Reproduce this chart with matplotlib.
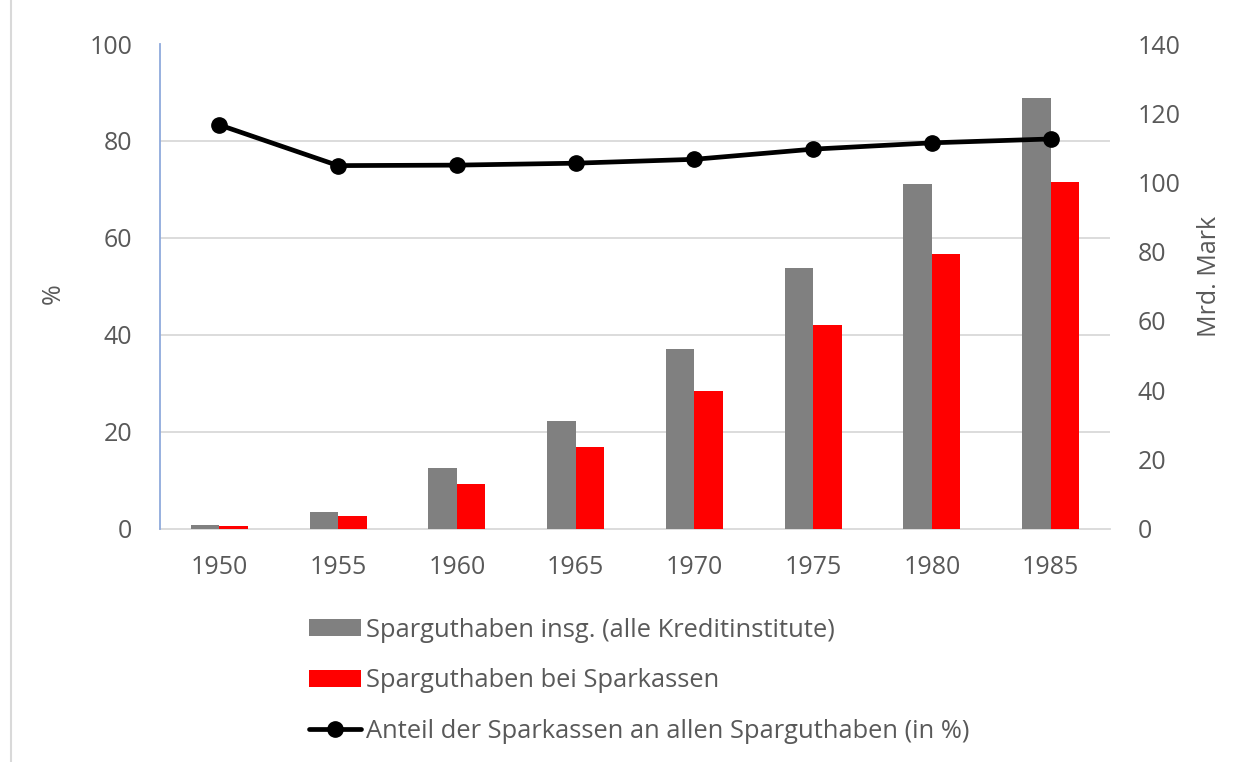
import matplotlib
matplotlib.use("Agg")
import matplotlib.pyplot as plt
from matplotlib.lines import Line2D
import numpy as np

plt.rcParams['font.family'] = ['Open Sans', 'DejaVu Sans']

years = ["1950", "1955", "1960", "1965", "1970", "1975", "1980", "1985"]
total_savings = [1.1, 4.8, 17.4, 31.2, 52.0, 75.2, 99.5, 124.5]      # Mrd. Mark
sparkassen_savings = [0.8, 3.5, 12.9, 23.5, 39.6, 58.7, 79.2, 100.0]  # Mrd. Mark
share_pct = [83.3, 74.9, 75.0, 75.4, 76.2, 78.3, 79.6, 80.4]          # %

labels = ["Sparguthaben insg. (alle Kreditinstitute)",
          "Sparguthaben bei Sparkassen",
          "Anteil der Sparkassen an allen Sparguthaben (in %)"]

txt = '#595959'
grid_c = '#d9d9d9'
fs = 18
W, H = 1251, 762
fig = plt.figure(figsize=(W / 100, H / 100), dpi=100)
ax = fig.add_axes([160 / W, 1 - 528.5 / H, 950 / W, 484.5 / H])
ax2 = ax.twinx()

x = np.arange(len(years))
bw = 0.24
ax.bar(x - bw / 2, total_savings, bw, color='#808080', label=labels[0], zorder=3)
ax.bar(x + bw / 2, sparkassen_savings, bw, color='#ff0000', label=labels[1], zorder=3)
ax.set_ylim(0, 140)
ax.set_xlim(-0.5, len(years) - 0.5)
ax.yaxis.tick_right()
ax.yaxis.set_label_position('right')
ax.set_yticks(np.arange(0, 141, 20))
ax.set_yticks(np.linspace(0, 140, 6), minor=True)
ax.grid(True, which='minor', axis='y', color=grid_c, lw=1.3, zorder=0)
ax.grid(False, which='major')
ax.tick_params(axis='y', which='both', length=0, pad=20, labelsize=fs, labelcolor=txt)
ax.set_xticks(x)
ax.set_xticklabels(years)
ax.tick_params(axis='x', length=0, pad=19, labelsize=fs, labelcolor=txt)
ax.set_ylabel("Mrd. Mark", fontsize=fs, color=txt)
ax.yaxis.set_label_coords(1.0913, 0.52)

ax2.plot(x, share_pct, color='black', lw=3.4, marker='o', markersize=11,
         label=labels[2], zorder=5, solid_capstyle='round')
ax2.set_ylim(0, 100)
ax2.yaxis.tick_left()
ax2.yaxis.set_label_position('left')
ax2.set_yticks(np.arange(0, 101, 20))
ax2.tick_params(axis='y', length=0, pad=20, labelsize=fs, labelcolor=txt)
ax2.set_ylabel("%", fontsize=fs, color=txt)
ax2.yaxis.set_label_coords(-0.099, 0.485)

for a in (ax, ax2):
    for s in a.spines.values():
        s.set_visible(False)
ax2.spines['left'].set_visible(True)
ax2.spines['left'].set_color('#8faadc')
ax2.spines['left'].set_linewidth(1.3)
ax.spines['bottom'].set_visible(True)
ax.spines['bottom'].set_color(grid_c)
ax.spines['bottom'].set_linewidth(1.3)

h1, l1 = ax.get_legend_handles_labels()
h2, l2 = ax2.get_legend_handles_labels()
fig.legend(h1 + h2, l1 + l2, loc='upper left', bbox_to_anchor=(296 / W, 1 - 605 / H),
           frameon=False, fontsize=18.4, labelcolor=txt, handlelength=2.03,
           handleheight=0.65, handletextpad=0.2, labelspacing=1.0, borderpad=0)

fig.add_artist(Line2D([11 / W, 11 / W], [0, 1], transform=fig.transFigure,
                      color=grid_c, lw=1.5))

fig.savefig("out.png", dpi=100)
